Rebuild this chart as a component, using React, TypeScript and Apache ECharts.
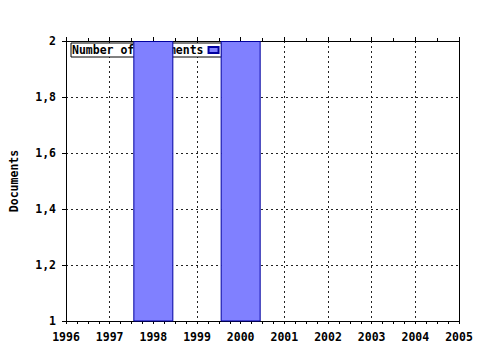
import React, { useEffect, useRef } from "react";
import * as echarts from "echarts";

const years = [1998, 2000];
const documents = [2, 2];
const seriesName = "Number of documents";
const yAxisTitle = "Documents";
const xMin = 1996;
const xMax = 2005;
const yMin = 1;
const yMax = 2;

const FONT = "'DejaVu Sans Mono', 'Liberation Mono', monospace";

export default function App() {
  const ref = useRef<HTMLDivElement>(null);
  useEffect(() => {
    if (!ref.current) return;
    const chart = echarts.init(ref.current, undefined, { renderer: "svg" });
    const labelStyle = { fontFamily: FONT, fontWeight: "bold" as const, fontSize: 11.5, color: "#000" };
    const gridLine = { show: true, lineStyle: { color: "#222", type: [2, 3], width: 1 } };
    chart.setOption({
      animation: false,
      backgroundColor: "#fff",
      grid: { left: 65, right: 21, top: 41, bottom: 29, containLabel: false },
      legend: {
        left: 71,
        top: 43,
        z: 1,
        align: "right",
        padding: [1, 2, 1, 1],
        itemWidth: 10,
        itemHeight: 6,
        backgroundColor: "#fff",
        borderColor: "#000",
        borderWidth: 1,
        borderRadius: 0,
        textStyle: { ...labelStyle, padding: [0, 0, 0, 0] },
        data: [{ name: seriesName, icon: "rect" }],
      },
      xAxis: [
        {
          type: "value",
          min: xMin,
          max: xMax,
          interval: 1,
          position: "bottom",
          axisLine: { show: true, onZero: false, lineStyle: { color: "#000", width: 1 } },
          axisTick: { show: true, inside: false, length: 3, lineStyle: { color: "#000" } },
          minorTick: { show: true, splitNumber: 4, length: 3, lineStyle: { color: "#000" } },
          axisLabel: { ...labelStyle, margin: 10, formatter: (v: number) => String(v) },
          splitLine: gridLine,
        },
        {
          type: "value",
          min: xMin,
          max: xMax,
          interval: 1,
          position: "top",
          axisLine: { show: true, onZero: false, lineStyle: { color: "#000", width: 1 } },
          axisTick: { show: true, inside: false, length: 4, lineStyle: { color: "#000" } },
          minorTick: { show: true, splitNumber: 2, length: 3, lineStyle: { color: "#000" } },
          axisLabel: { show: false },
          splitLine: { show: false },
        },
      ],
      yAxis: [
        {
          type: "value",
          min: yMin,
          max: yMax,
          interval: 0.2,
          position: "left",
          name: yAxisTitle,
          nameLocation: "middle",
          nameGap: 46,
          nameTextStyle: { ...labelStyle },
          axisLine: { show: true, onZero: false, lineStyle: { color: "#000", width: 1 } },
          axisTick: { show: true, inside: false, length: 4, lineStyle: { color: "#000" } },
          axisLabel: {
            ...labelStyle,
            margin: 10,
            formatter: (v: number) => String(Math.round(v * 10) / 10).replace(".", ","),
          },
          splitLine: gridLine,
        },
        {
          type: "value",
          min: yMin,
          max: yMax,
          interval: 0.2,
          position: "right",
          axisLine: { show: true, onZero: false, lineStyle: { color: "#000", width: 1 } },
          axisTick: { show: false },
          axisLabel: { show: false },
          splitLine: { show: false },
        },
      ],
      series: [
        {
          name: seriesName,
          type: "bar",
          z: 2,
          xAxisIndex: 0,
          yAxisIndex: 0,
          barWidth: 40,
          clip: true,
          itemStyle: { color: "#8080ff", borderColor: "#0000a0", borderWidth: 1 },
          data: years.map((y, i) => [y, documents[i]]),
        },
      ],
    });
    return () => chart.dispose();
  }, []);
  return (
    <div
      ref={ref}
      style={{ position: "fixed", left: 0, top: 0, width: 480, height: 350 }}
    />
  );
}
